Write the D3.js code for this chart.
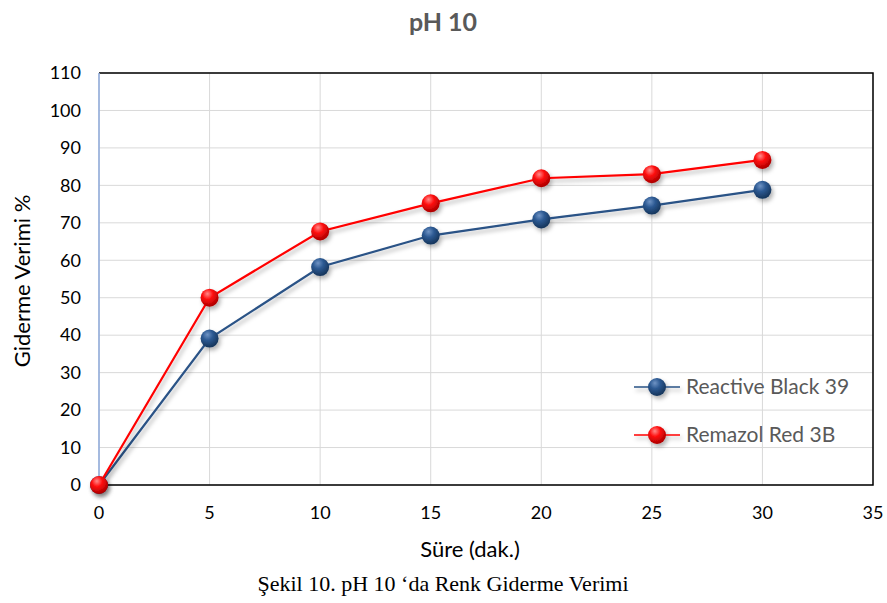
<!DOCTYPE html>
<html>
<head>
<meta charset="utf-8">
<script src="https://cdn.jsdelivr.net/npm/d3@7"></script>
<style>
  html, body { margin: 0; padding: 0; background: #fff; }
  svg { display: block; }
</style>
</head>
<body>
<svg id="chart" width="887" height="603"></svg>
<script>
// Removal efficiency over time at pH 10
const times = [0, 5, 10, 15, 20, 25, 30];
const reactiveBlack39 = [0, 39.1, 58.2, 66.6, 70.9, 74.6, 78.8];
const remazolRed3B = [0, 50.0, 67.7, 75.2, 81.9, 83.0, 86.8];
const seriesNames = ["Reactive Black 39", "Remazol Red 3B"];
const xTicks = [0, 5, 10, 15, 20, 25, 30, 35];
const yTicks = [0, 10, 20, 30, 40, 50, 60, 70, 80, 90, 100, 110];

const svg = d3.select("#chart");
const margin = { left: 99, right: 14, top: 73, bottom: 118 };
const W = 887, H = 603;
const iw = W - margin.left - margin.right;
const ih = H - margin.top - margin.bottom;

const x = d3.scaleLinear().domain([0, 35]).range([margin.left, margin.left + iw]);
const y = d3.scaleLinear().domain([0, 110]).range([margin.top + ih, margin.top]);

const defs = svg.append("defs");
function ballGradient(id, light, mid, dark) {
  const g = defs.append("radialGradient").attr("id", id)
    .attr("cx", "40%").attr("cy", "32%").attr("r", "65%").attr("fx", "38%").attr("fy", "28%");
  g.append("stop").attr("offset", "0%").attr("stop-color", light);
  g.append("stop").attr("offset", "45%").attr("stop-color", mid);
  g.append("stop").attr("offset", "100%").attr("stop-color", dark);
}
ballGradient("ballBlue", "#6f93c4", "#2d5a93", "#17375e");
ballGradient("ballRed", "#ff8a8a", "#ff1010", "#b00000");

const shadow = defs.append("filter").attr("id", "shadow")
  .attr("x", "-50%").attr("y", "-50%").attr("width", "200%").attr("height", "200%");
shadow.append("feDropShadow").attr("dx", 2).attr("dy", 3).attr("stdDeviation", 2)
  .attr("flood-color", "#000").attr("flood-opacity", 0.3);

const font = "Lato, 'Open Sans', sans-serif";

// Gridlines
svg.append("g").selectAll("line.h").data(yTicks).join("line")
  .attr("x1", margin.left).attr("x2", margin.left + iw)
  .attr("y1", d => y(d)).attr("y2", d => y(d))
  .attr("stroke", "#d9d9d9").attr("stroke-width", 1);
svg.append("g").selectAll("line.v").data(xTicks).join("line")
  .attr("x1", d => x(d)).attr("x2", d => x(d))
  .attr("y1", margin.top).attr("y2", margin.top + ih)
  .attr("stroke", "#d9d9d9").attr("stroke-width", 1);

// Frame: black top/right/bottom, light blue value axis
svg.append("path")
  .attr("d", `M${margin.left},${margin.top}H${margin.left + iw}V${margin.top + ih}H${margin.left}`)
  .attr("fill", "none").attr("stroke", "#000").attr("stroke-width", 1.5);
svg.append("line")
  .attr("x1", margin.left).attr("x2", margin.left)
  .attr("y1", margin.top).attr("y2", margin.top + ih)
  .attr("stroke", "#8eaadb").attr("stroke-width", 1.5);

// Tick labels
svg.append("g").selectAll("text").data(yTicks).join("text")
  .attr("x", margin.left - 18).attr("y", d => y(d)).attr("dy", "0.35em")
  .attr("text-anchor", "end").attr("font-family", font).attr("font-size", 18)
  .attr("fill", "#000").text(d => d);
svg.append("g").selectAll("text").data(xTicks).join("text")
  .attr("x", d => x(d)).attr("y", margin.top + ih + 34)
  .attr("text-anchor", "middle").attr("font-family", font).attr("font-size", 18)
  .attr("fill", "#000").text(d => d);

// Titles
svg.append("text").attr("x", 443).attr("y", 31).attr("text-anchor", "middle")
  .attr("font-family", font).attr("font-weight", "bold").attr("font-size", 25)
  .attr("fill", "#595959").text("pH 10");
svg.append("text").attr("transform", `translate(30,281) rotate(-90)`)
  .attr("text-anchor", "middle").attr("font-family", font).attr("font-size", 22)
  .attr("fill", "#000").text("Giderme Verimi %");
svg.append("text").attr("x", 470).attr("y", 557).attr("text-anchor", "middle")
  .attr("font-family", font).attr("font-size", 22)
  .attr("fill", "#000").text("Süre (dak.)");
svg.append("text").attr("x", 443).attr("y", 591).attr("text-anchor", "middle")
  .attr("font-family", "'Liberation Serif', 'Times New Roman', serif").attr("font-size", 22)
  .attr("fill", "#000").text("Şekil 10. pH 10 ‘da Renk Giderme Verimi");

// Series
const series = [
  { name: seriesNames[0], values: reactiveBlack39, color: "#2a5286", grad: "url(#ballBlue)" },
  { name: seriesNames[1], values: remazolRed3B, color: "#ff0000", grad: "url(#ballRed)" }
];
const line = d3.line().x((d, i) => x(times[i])).y(d => y(d));

series.forEach(s => {
  const g = svg.append("g").attr("filter", "url(#shadow)");
  g.append("path").datum(s.values).attr("d", line)
    .attr("fill", "none").attr("stroke", s.color).attr("stroke-width", 2.2);
  g.selectAll("circle").data(s.values).join("circle")
    .attr("cx", (d, i) => x(times[i])).attr("cy", d => y(d)).attr("r", 9)
    .attr("fill", s.grad);
});

// Legend
const legend = svg.append("g");
series.forEach((s, i) => {
  const ly = 387 + i * 48;
  const lg = legend.append("g").attr("filter", "url(#shadow)");
  lg.append("line").attr("x1", 634).attr("x2", 680).attr("y1", ly).attr("y2", ly)
    .attr("stroke", s.color).attr("stroke-width", 1.6);
  lg.append("circle").attr("cx", 657).attr("cy", ly).attr("r", 9).attr("fill", s.grad);
  legend.append("text").attr("x", 686).attr("y", ly).attr("dy", "0.35em")
    .attr("font-family", font).attr("font-size", 21).attr("fill", "#595959").text(s.name);
});
</script>
</body>
</html>
